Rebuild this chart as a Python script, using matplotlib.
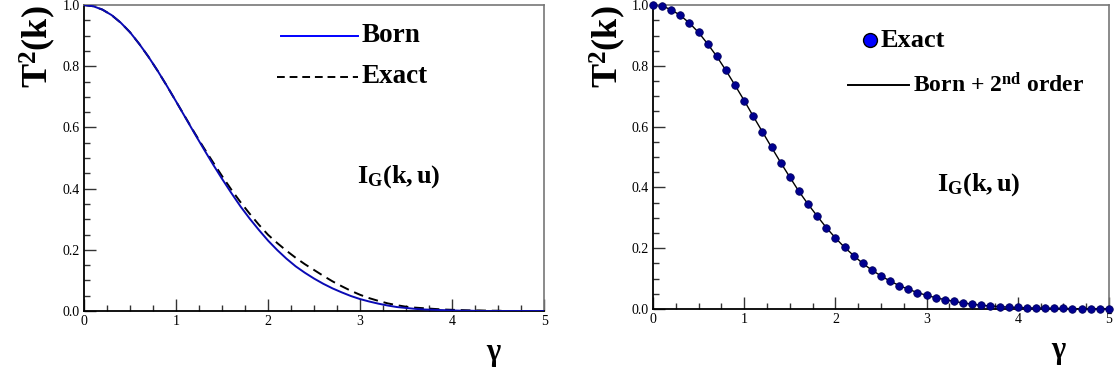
import numpy as np
import matplotlib
matplotlib.use("Agg")
import matplotlib.pyplot as plt
from matplotlib.ticker import MultipleLocator, FormatStrFormatter

plt.rcParams["font.family"] = ["Liberation Serif", "DejaVu Serif"]
plt.rcParams["mathtext.fontset"] = "custom"
plt.rcParams["mathtext.rm"] = "Liberation Serif"
plt.rcParams["mathtext.it"] = "Liberation Serif:italic"
plt.rcParams["mathtext.bf"] = "Liberation Serif:bold"

# ── data ────────────────────────────────────────────────────────────────────
gamma = [round(0.1 * i, 1) for i in range(51)]

# left panel
born_left = [
    1.000, 0.996, 0.985, 0.967, 0.942, 0.911, 0.873, 0.831, 0.785, 0.736,
    0.685, 0.633, 0.581, 0.530, 0.480, 0.432, 0.386, 0.342, 0.302, 0.265,
    0.230, 0.199, 0.171, 0.146, 0.125, 0.106, 0.089, 0.074, 0.061, 0.049,
    0.039, 0.031, 0.024, 0.018, 0.013, 0.010, 0.007, 0.005, 0.004, 0.003,
    0.002, 0.001, 0.001, 0.000, 0.000, 0.000, 0.000, 0.000, 0.000, 0.000,
    0.000,
]
exact_left = [
    1.000, 0.996, 0.985, 0.967, 0.942, 0.911, 0.873, 0.831, 0.785, 0.736,
    0.685, 0.634, 0.583, 0.534, 0.487, 0.441, 0.397, 0.356, 0.318, 0.282,
    0.249, 0.222, 0.197, 0.174, 0.153, 0.134, 0.115, 0.097, 0.081, 0.066,
    0.053, 0.042, 0.033, 0.025, 0.019, 0.014, 0.011, 0.009, 0.007, 0.005,
    0.004, 0.003, 0.002, 0.002, 0.001, 0.001, 0.000, 0.000, 0.000, 0.000,
    0.000,
]

# right panel
exact_right = [
    1.000, 0.997, 0.985, 0.966, 0.941, 0.910, 0.872, 0.831, 0.785, 0.736,
    0.686, 0.634, 0.583, 0.532, 0.482, 0.434, 0.387, 0.345, 0.306, 0.268,
    0.234, 0.203, 0.176, 0.150, 0.128, 0.109, 0.092, 0.077, 0.065, 0.054,
    0.045, 0.037, 0.031, 0.025, 0.020, 0.016, 0.012, 0.010, 0.008, 0.006,
    0.005, 0.004, 0.003, 0.003, 0.002, 0.002, 0.001, 0.001, 0.001, 0.001,
    0.001,
]
born2_right = list(exact_right)

xticks = [0, 1, 2, 3, 4, 5]
yticks = [0.0, 0.2, 0.4, 0.6, 0.8, 1.0]

# ── layout ──────────────────────────────────────────────────────────────────
fig = plt.figure(figsize=(11.17, 3.77), dpi=100)
ax_l = fig.add_axes([0.0752, 0.175, 0.412, 0.8117])
ax_r = fig.add_axes([0.5846, 0.1804, 0.4082, 0.806])


def style_axes(ax):
    ax.set_xlim(0, 5)
    ax.set_ylim(0, 1)
    ax.set_xticks(xticks)
    ax.set_yticks(yticks)
    ax.xaxis.set_minor_locator(MultipleLocator(0.25))
    ax.yaxis.set_minor_locator(MultipleLocator(0.05))
    ax.yaxis.set_major_formatter(FormatStrFormatter("%.1f"))
    ax.tick_params(which="both", direction="in", top=False, right=False,
                   color="#333333", width=1.0, labelsize=10, pad=3)
    ax.tick_params(which="major", length=8.5)
    ax.tick_params(which="minor", length=4.5)
    for s in ("left", "bottom"):
        ax.spines[s].set_color("black")
        ax.spines[s].set_linewidth(1.3)
    for s in ("top", "right"):
        ax.spines[s].set_color("#777777")
        ax.spines[s].set_linewidth(1.2)
    ax.text(-0.10, 1.0, r"$\mathbf{T^{2}(k)}$", transform=ax.transAxes,
            rotation=90, ha="center", va="top", fontsize=26)
    ax.text(0.89, -0.14, r"$\mathbf{\gamma}$", transform=ax.transAxes,
            ha="center", va="center", fontsize=22, fontweight="bold",
            family=["DejaVu Serif"])


# ── left panel ──────────────────────────────────────────────────────────────
style_axes(ax_l)
ax_l.plot(gamma, born_left, color="#0a0ab4", lw=1.4, zorder=3)
ax_l.plot(gamma, exact_left, color="black", lw=1.4, ls=(0, (5, 3)), zorder=2)

ax_l.plot([0.427, 0.595], [0.90, 0.90], color="#0000ff", lw=1.4,
          transform=ax_l.transAxes, clip_on=False)
ax_l.text(0.603, 0.90, "Born", transform=ax_l.transAxes, ha="left",
          va="center", fontsize=19.5, fontweight="bold")
ax_l.plot([0.42, 0.595], [0.765, 0.765], color="black", lw=1.4,
          ls=(0, (4, 2.5)), transform=ax_l.transAxes, clip_on=False)
ax_l.text(0.603, 0.765, "Exact", transform=ax_l.transAxes, ha="left",
          va="center", fontsize=19.5, fontweight="bold")
ax_l.text(0.685, 0.44, r"$\mathbf{I_{G}(k,u)}$", transform=ax_l.transAxes,
          ha="center", va="center", fontsize=19)

# ── right panel ─────────────────────────────────────────────────────────────
style_axes(ax_r)
ax_r.plot(gamma, born2_right, color="black", lw=1.0, zorder=2)
ax_r.plot(gamma, exact_right, ls="none", marker="o", ms=5.4,
          mfc="#000090", mec="#000060", mew=0.6, zorder=3, clip_on=False)

ax_r.plot([0.477], [0.885], ls="none", marker="o", ms=10, mfc="#0000ff",
          mec="black", mew=1.0, transform=ax_r.transAxes, clip_on=False)
ax_r.text(0.50, 0.885, "Exact", transform=ax_r.transAxes, ha="left",
          va="center", fontsize=19, fontweight="bold")
ax_r.plot([0.428, 0.562], [0.736, 0.736], color="black", lw=1.4,
          transform=ax_r.transAxes, clip_on=False)
ax_r.text(0.57, 0.736, r"Born + 2$^{\mathbf{nd}}$ order",
          transform=ax_r.transAxes, ha="left", va="center", fontsize=17,
          fontweight="bold")
ax_r.text(0.715, 0.41, r"$\mathbf{I_{G}(k,u)}$", transform=ax_r.transAxes,
          ha="center", va="center", fontsize=19)

fig.savefig("out.png", dpi=100)
